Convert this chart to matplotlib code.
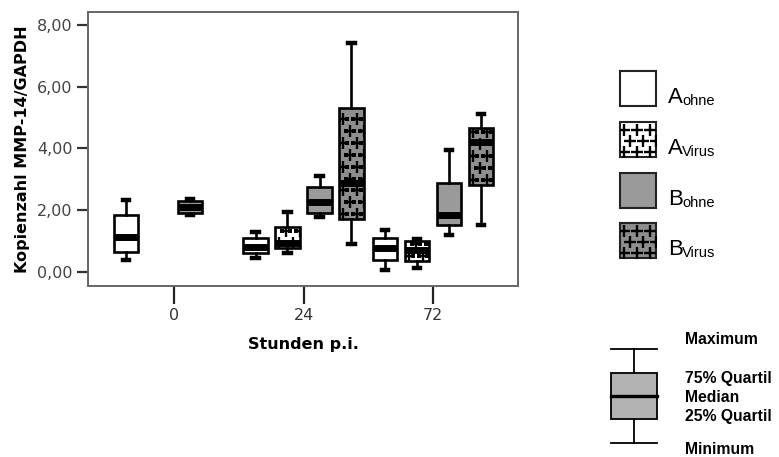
import numpy as np
import matplotlib
matplotlib.use("Agg")
import matplotlib.pyplot as plt
from matplotlib.patches import Rectangle

# Five-number summaries per time point: [minimum, Q1, median, Q3, maximum]
hours = ["0", "24", "72"]
a_ohne = [[0.39, 0.64, 1.13, 1.84, 2.33],
          [0.45, 0.61, 0.81, 1.10, 1.29],
          [0.06, 0.39, 0.78, 1.10, 1.36]]
a_virus = [None,
           [0.62, 0.78, 0.94, 1.46, 1.94],
           [0.12, 0.36, 0.72, 1.00, 1.06]]
b_ohne = [[1.84, 1.91, 2.10, 2.30, 2.36],
          [1.78, 1.91, 2.27, 2.75, 3.11],
          [1.20, 1.52, 1.84, 2.88, 3.95]]
b_virus = [None,
           [0.90, 1.71, 2.87, 5.30, 7.42],
           [1.52, 2.82, 4.21, 4.66, 5.11]]
y_ticks = [0, 2, 4, 6, 8]
y_tick_labels = ["0,00", "2,00", "4,00", "6,00", "8,00"]

series = [
    ("A", "ohne", a_ohne, "white", False),
    ("A", "Virus", a_virus, "white", True),
    ("B", "ohne", b_ohne, "#9a9a9a", False),
    ("B", "Virus", b_virus, "#8e8e8e", True),
]
offsets = [-0.37, -0.124, 0.124, 0.37]
box_w = 0.19

W, H = 779, 457
fig = plt.figure(figsize=(W / 100, H / 100), dpi=100)
ax = fig.add_axes([88 / W, 1 - 286 / H, 430 / W, 274 / H])
ax.set_xlim(-0.664, 2.656)
ax.set_ylim(-0.453, 8.42)


def plus_fill(ax, x0, x1, y0, y1, clip, color="black", step=14.0):
    """Scatter '+' signs over a box, clipped to its outline."""
    inv = ax.transData.inverted()
    (px0, py0) = ax.transData.transform((x0, y0))
    (px1, py1) = ax.transData.transform((x1, y1))
    pts = []
    row = 0
    y = py0 + 5
    while y < py1:
        shift = (step / 2) if row % 2 else 0
        x = px0 + 4 + shift
        while x < px1 + step:
            pts.append((x, y))
            x += step
        y += step * 0.85
        row += 1
    if not pts:
        return
    d = inv.transform(np.array(pts))
    sc = ax.scatter(d[:, 0], d[:, 1], marker="+", s=65, linewidths=1.7,
                    color=color, zorder=3)
    sc.set_clip_path(clip)


for (letter, sub, data, face, patt), off in zip(series, offsets):
    for gi, stats in enumerate(data):
        if stats is None:
            continue
        lo, q1, med, q3, hi = stats
        st = dict(whislo=lo, q1=q1, med=med, q3=q3, whishi=hi, fliers=[])
        res = ax.bxp([st], positions=[gi + off], widths=box_w,
                     capwidths=0.05, patch_artist=True, showfliers=False,
                     boxprops=dict(facecolor=face, edgecolor="black", linewidth=1.9),
                     medianprops=dict(color="black", linewidth=5.0, solid_capstyle="butt"),
                     whiskerprops=dict(color="black", linewidth=1.9),
                     capprops=dict(color="black", linewidth=3.2))
        box = res["boxes"][0]
        if patt:
            plus_fill(ax, gi + off - box_w / 2, gi + off + box_w / 2, q1, q3, box)
        for m in res["medians"]:
            m.set_zorder(4)
        box.set_zorder(2)

ax.set_xticks(range(len(hours)))
ax.set_xticklabels(hours)
ax.set_yticks(y_ticks)
ax.set_yticklabels(y_tick_labels)
ax.tick_params(axis="x", length=13, width=1.6, color="#222222",
               labelsize=11.5, labelcolor="#333333", pad=3)
ax.tick_params(axis="y", length=8, width=1.6, color="#333333",
               labelsize=11.5, labelcolor="#444444", pad=3)
for s in ax.spines.values():
    s.set_color("#666666")
    s.set_linewidth(1.4)
ax.set_xlabel("Stunden p.i.", fontsize=11.5, fontweight="bold", labelpad=10)
ax.set_ylabel("Kopienzahl MMP-14/GAPDH", fontsize=11.5, fontweight="bold", labelpad=5)

# Legend panels drawn in figure pixel space
ov = fig.add_axes([0, 0, 1, 1], zorder=5)
ov.set_xlim(0, W)
ov.set_ylim(H, 0)
ov.axis("off")
ov.patch.set_alpha(0)

tops = [71, 122, 173, 223]
for (letter, sub, data, face, patt), top in zip(series, tops):
    r = Rectangle((620, top), 36, 35, facecolor=face, edgecolor="#222222",
                  linewidth=1.5)
    ov.add_patch(r)
    if patt:
        plus_fill(ov, 620, 656, top + 35, top, r, step=13)
    base = top + 32
    ov.text(668, base, letter, fontsize=16, family="Liberation Sans",
            va="baseline", ha="left")
    ov.text(682, base + 2, sub, fontsize=10.5, family="Liberation Sans",
            va="baseline", ha="left")

# Box-plot key
cx = 634
ov.plot([611, 657], [349, 349], color="black", lw=1.3)
ov.plot([611, 657], [443, 443], color="black", lw=1.3)
ov.plot([cx, cx], [349, 373], color="black", lw=1.3)
ov.plot([cx, cx], [419, 443], color="black", lw=1.3)
ov.add_patch(Rectangle((611, 373), 46, 46, facecolor="#b3b3b3",
                       edgecolor="black", linewidth=1.3))
ov.plot([611, 657], [396, 396], color="black", lw=2.4)
key_txt = [("Maximum", 340), ("75% Quartil", 379), ("Median", 398),
           ("25% Quartil", 417), ("Minimum", 450)]
for t, y in key_txt:
    ov.text(685, y, t, fontsize=11.3, fontweight="bold",
            family="Liberation Sans", va="center", ha="left")

fig.savefig("out.png", dpi=100)
